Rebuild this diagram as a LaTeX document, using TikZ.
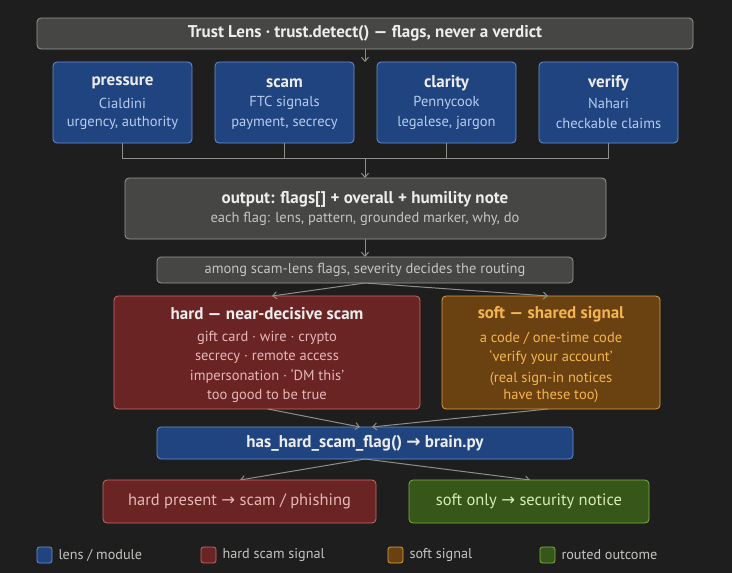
\documentclass[tikz,border=0pt]{standalone}
\usepackage{fontspec}
\setmainfont{PT Sans}
\newfontfamily\djv{DejaVu Sans}
\newcommand{\rarr}{{\djv\char"2192}}
\usetikzlibrary{arrows.meta}
\definecolor{bg}{HTML}{1E1E1E}
\definecolor{gfill}{HTML}{464644}\definecolor{gline}{HTML}{9A9A96}
\definecolor{bfill}{HTML}{1F4480}\definecolor{bline}{HTML}{6A90D4}
\definecolor{rfill}{HTML}{6B2424}\definecolor{rline}{HTML}{C86A6A}
\definecolor{ofill}{HTML}{6A4212}\definecolor{oline}{HTML}{E0A040}
\definecolor{nfill}{HTML}{37561A}\definecolor{nline}{HTML}{82B040}
\definecolor{tw}{HTML}{EDEDED}\definecolor{tb}{HTML}{B8CCEE}
\definecolor{tr}{HTML}{E4B8B8}\definecolor{to}{HTML}{F4B450}
\definecolor{tg}{HTML}{C4C4C0}\definecolor{tn}{HTML}{D8EEB0}
\definecolor{arr}{HTML}{8E8E8A}
\begin{document}
\begin{tikzpicture}[x=1pt,y=-1pt,
 box/.style={draw,rounded corners=4pt,line width=0.8pt,inner sep=0pt},
 tt/.style={font=\fontsize{17}{20}\selectfont\bfseries,text=tw},
 st/.style={font=\fontsize{14.5}{17}\selectfont},
 con/.style={draw=arr,line width=1pt},
 ar/.style={con,-{Straight Barb[length=4pt,width=7pt]}},
 lg/.style={font=\fontsize{14.2}{17}\selectfont,text=tg,anchor=west}]
\fill[bg] (0,0) rectangle (732,573);
\useasboundingbox (0,0) rectangle (732,573);
% title
\draw[box,fill=gfill,draw=gline] (37,18) rectangle (693,49);
\node[tt] (title) at (365,33.5) {Trust Lens · trust.detect() — flags, never a verdict};
% lens boxes
\foreach \n/\x/\a/\b/\c in {p/53/pressure/Cialdini/{urgency, authority},s/215/scam/FTC signals/{payment, secrecy},c/377/clarity/Pennycook/{legalese, jargon},v/539/verify/Nahari/checkable claims}{
 \draw[box,fill=bfill,draw=bline] (\x,62) rectangle (\x+139,143);
 \coordinate (\n b) at (\x+69.5,143);
 \node[tt] at (\x+69.5,83) {\a};
 \node[st,text=tb] at (\x+69.5,103) {\b};
 \node[st,text=tb] at (\x+69.5,123) {\c};
}
\coordinate (t1) at (365,49); \coordinate (t2) at (365,62);
\draw[ar] (t1) -- (t2);
\draw[con] (pb) |- (vb|-0,158) -- (vb);
\draw[con] (sb) -- (sb|-0,158); \draw[con] (cb) -- (cb|-0,158);
\coordinate (m1) at (365,158);
% output
\draw[box,fill=gfill,draw=gline] (125,178) rectangle (606,239);
\node[tt] (out) at (365,199) {output: flags[] + overall + humility note};
\node[st,text=tg] at (365,219) {each flag: lens, pattern, grounded marker, why, do};
\coordinate (o1) at (365,178); \coordinate (o2) at (365,239);
\draw[ar] (m1) -- (o1);
% among
\draw[box,fill=gfill,draw=gline] (157,257) rectangle (573,283);
\node[st,text=tg] (am) at (365,270) {among scam-lens flags, severity decides the routing};
\coordinate (a1) at (365,257); \coordinate (a2) at (365,283);
\draw[ar] (o2) -- (a1);
% hard / soft
\draw[box,fill=rfill,draw=rline] (114,296) rectangle (420,409);
\node[tt] (hard) at (267,314) {hard — near-decisive scam};
\foreach \t/\y in {{gift card · wire · crypto}/338,{secrecy · remote access}/357,{impersonation · ‘DM this’}/376,{too good to be true}/396}
 \node[st,text=tr] at (267,\y) {\t};
\draw[box,fill=ofill,draw=oline] (442,296) rectangle (660,409);
\node[tt,text=to] (soft) at (551,314) {soft — shared signal};
\foreach \t/\y in {{a code / one-time code}/338,{‘verify your account’}/357,{(real sign-in notices}/379,{have these too)}/396}
 \node[st,text=to] at (551,\y) {\t};
\coordinate (h1) at (272,296); \coordinate (s1) at (548,296);
\draw[ar] (a2) -- (h1); \draw[ar] (a2) -- (s1);
% has
\draw[box,fill=bfill,draw=bline] (157,427) rectangle (573,459);
\node[tt] (has) at (365,443) {has\_hard\_scam\_flag() \rarr{} brain.py};
\coordinate (h2) at (268,409); \coordinate (s2) at (548,409);
\coordinate (x1) at (360,427); \coordinate (x2) at (372,427);
\draw[ar] (h2) -- (x1); \draw[ar] (s2) -- (x2);
\coordinate (y0) at (365,459); \coordinate (y1) at (240,480); \coordinate (y2) at (530,480);
\draw[ar] (y0) -- (y1); \draw[ar] (y0) -- (y2);
% outcomes
\draw[box,fill=rfill,draw=rline] (103,480) rectangle (376,523);
\node[font=\fontsize{16.5}{19}\selectfont,text=tr] (hp) at (239.5,501.5) {hard present \rarr{} scam / phishing};
\draw[box,fill=nfill,draw=nline] (409,480) rectangle (649,523);
\node[font=\fontsize{16.5}{19}\selectfont,text=tn] (so) at (529,501.5) {soft only \rarr{} security notice};
% legend
\foreach \x/\f/\l/\t in {37/bfill/bline/{lens / module},201/rfill/rline/{hard scam signal},388/ofill/oline/{soft signal},540/nfill/nline/{routed outcome}}{
 \draw[box,rounded corners=2.5pt,fill=\f,draw=\l] (\x,547) rectangle (\x+15,563);
 \node[lg] at (\x+18,555) {\t};
}
\end{tikzpicture}
\end{document}
